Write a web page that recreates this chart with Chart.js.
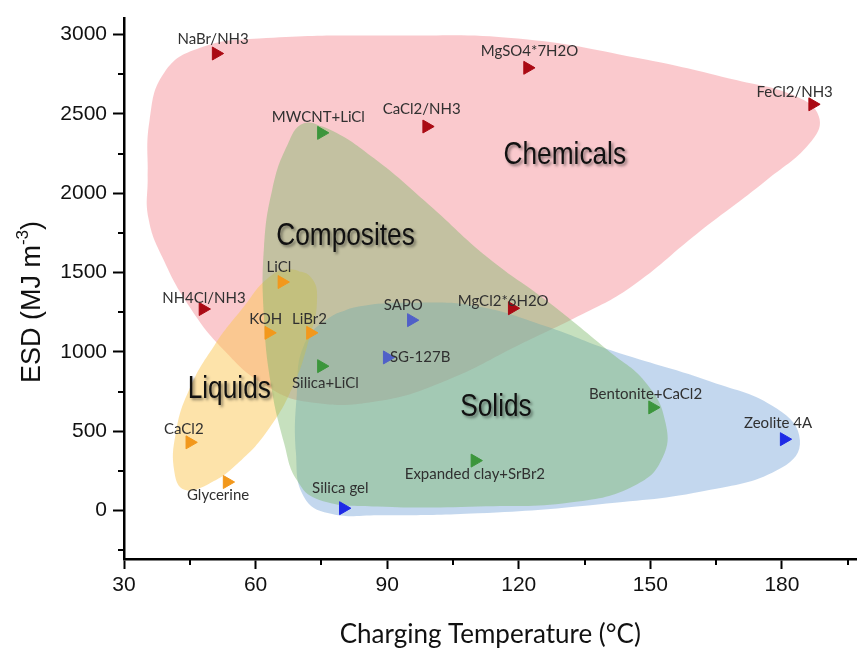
<!DOCTYPE html>
<html>
<head>
<meta charset="utf-8">
<script src="https://cdn.jsdelivr.net/npm/chart.js@4.4.1/dist/chart.umd.min.js"></script>
<style>
  html, body { margin: 0; padding: 0; background: #ffffff; }
  #wrap { width: 865px; height: 650px; position: relative; }
</style>
</head>
<body>
<div id="wrap"><canvas id="chart" width="865" height="650"></canvas></div>
<script>
// ---- materials: charging temperature (°C) and energy storage density (MJ m-3) ----
const chemNames = ['NaBr/NH3', 'MgSO4*7H2O', 'FeCl2/NH3', 'CaCl2/NH3', 'NH4Cl/NH3', 'MgCl2*6H2O'];
const chemTemp  = [51, 122, 187, 99, 48, 118.5];
const chemESD   = [2880, 2790, 2560, 2420, 1270, 1275];

const compNames = ['MWCNT+LiCl', 'Silica+LiCl', 'Bentonite+CaCl2', 'Expanded clay+SrBr2'];
const compTemp  = [75, 75, 150.5, 110];
const compESD   = [2380, 910, 650, 315];

const liqNames = ['LiCl', 'KOH', 'LiBr2', 'CaCl2', 'Glycerine'];
const liqTemp  = [66, 63, 72.5, 45, 53.5];
const liqESD   = [1440, 1120, 1120, 430, 180];

const solNames = ['SAPO', 'SG-127B', 'Silica gel', 'Zeolite 4A'];
const solTemp  = [95.5, 90, 80, 180.5];
const solESD   = [1200, 965, 15, 450];

// ---- region outlines (°C, MJ m-3) ----
const chemAreaTemp = [35.4, 35.8, 39.2, 47.2, 60.8, 92.6, 119.8, 147.1, 169.8, 183.4, 188.4, 186.8, 176.6, 160.7, 145.5, 133.5, 119.8, 103.9, 88.0, 72.1, 61.9, 52.8, 44.9, 38.8, 35.6];
const chemAreaESD  = [2084, 2453, 2760, 2914, 2975, 2993, 2975, 2852, 2711, 2607, 2484, 2330, 2084, 1746, 1408, 1224, 1040, 825, 690, 684, 795, 1010, 1286, 1593, 1839];

const compAreaTemp = [71.0, 77.0, 87.0, 99.4, 113.0, 126.6, 140.3, 149.3, 153.5, 152.8, 147.1, 133.5, 110.7, 88.0, 74.4, 69.4, 66.5, 63.5, 61.9, 61.9, 63.8, 67.2];
const compAreaESD  = [2440, 2400, 2220, 1931, 1593, 1317, 1010, 795, 549, 334, 168, 57, 26, 26, 69, 192, 425, 794, 1224, 1654, 2023, 2300];

const liqAreaTemp = [67.6, 72.6, 74.0, 72.1, 68.7, 63.1, 56.2, 49.4, 43.8, 41.5, 41.8, 44.9, 50.6, 57.4, 62.6];
const liqAreaESD  = [1520, 1471, 1318, 1072, 795, 519, 304, 169, 132, 242, 488, 765, 1041, 1287, 1459];

const solAreaTemp = [76.7, 83.5, 97.1, 110.7, 126.0, 141.0, 163.7, 178.9, 184.1, 180.0, 163.7, 138.0, 110.7, 88.0, 76.7, 71.0, 69.2, 69.4, 71.0];
const solAreaESD  = [1213, 1286, 1310, 1286, 1163, 1010, 813, 641, 444, 272, 131, 39, -17, -29, -17, 88, 364, 733, 1040];

// ---- region captions ----
const groupNames = ['Chemicals', 'Composites', 'Liquids', 'Solids'];
const groupTemp  = [130.5, 80.5, 54, 114.8];
const groupESD   = [2207, 1697, 733, 622];

// ---- axis ticks ----
const xMajorTicks = [30, 60, 90, 120, 150, 180];
const xMinorTicks = [45, 75, 105, 135, 165, 195];
const yMajorTicks = [0, 500, 1000, 1500, 2000, 2500, 3000];
const yMinorTicks = [-250, 250, 750, 1250, 1750, 2250, 2750];

// where each material name sits relative to its marker (px)
const labelOffset = {
  'NaBr/NH3': [-3, -14], 'MgSO4*7H2O': [2, -17], 'FeCl2/NH3': [-18, -12], 'CaCl2/NH3': [-5, -17],
  'NH4Cl/NH3': [1, -11], 'MgCl2*6H2O': [-9, -7], 'MWCNT+LiCl': [-3, -16], 'Silica+LiCl': [4, 17],
  'Bentonite+CaCl2': [-7, -13], 'Expanded clay+SrBr2': [0, 14], 'LiCl': [-3, -15], 'KOH': [-3, -14],
  'LiBr2': [-1, -14], 'CaCl2': [-6, -13], 'Glycerine': [-9, 13], 'SAPO': [-8, -15],
  'SG-127B': [33, 0], 'Silica gel': [-3, -20], 'Zeolite 4A': [-6, -16]
};

const toPoints = (xs, ys) => xs.map((x, i) => ({ x: x, y: ys[i] }));
// closed outline: wrap around so the spline runs smoothly through the start point
const ring = (xs, ys) => {
  const p = toPoints(xs, ys);
  return p.concat([p[0], p[1]]);
};

function markerSet(label, names, xs, ys, colors) {
  return {
    label: label,
    names: names,
    data: toPoints(xs, ys),
    pointStyle: 'triangle',
    rotation: 90,
    pointRadius: 7.5,
    backgroundColor: colors,
    borderColor: colors,
    borderWidth: 1,
    showLine: false
  };
}
function areaSet(label, xs, ys, color) {
  return {
    label: label,
    data: ring(xs, ys),
    showLine: true,
    fill: 'shape',
    backgroundColor: color,
    borderWidth: 0,
    borderColor: 'rgba(0,0,0,0)',
    pointRadius: 0,
    tension: 0.45
  };
}

const chemColor = '#aa0a14';
const compColor = '#3c963c';
const liqColor = '#f2981c';
const solColors = ['#5060c8', '#5060c8', '#1e2ae6', '#1e2ae6'];

const datasets = [
  markerSet('Chemicals', chemNames, chemTemp, chemESD, chemColor),
  markerSet('Composites', compNames, compTemp, compESD, compColor),
  markerSet('Liquids', liqNames, liqTemp, liqESD, liqColor),
  markerSet('Solids', solNames, solTemp, solESD, solColors),
  // regions, listed top-most first
  areaSet('Composites region', compAreaTemp, compAreaESD, 'rgba(120,180,100,0.42)'),
  areaSet('Liquids region', liqAreaTemp, liqAreaESD, 'rgba(252,200,85,0.5)'),
  areaSet('Solids region', solAreaTemp, solAreaESD, 'rgba(135,175,222,0.5)'),
  areaSet('Chemicals region', chemAreaTemp, chemAreaESD, 'rgba(245,148,155,0.5)')
];

const axisFont = { family: "'Liberation Sans', Arial, sans-serif", size: 21 };

const decorations = {
  id: 'decorations',
  afterDatasetsDraw(chart) {
    const ctx = chart.ctx;
    const xs = chart.scales.x, ys = chart.scales.y;

    // material names next to their markers
    ctx.save();
    ctx.font = "15px Lato, 'Open Sans', sans-serif";
    ctx.fillStyle = '#303030';
    ctx.textAlign = 'center';
    ctx.textBaseline = 'middle';
    chart.data.datasets.forEach((ds, di) => {
      if (!ds.names) return;
      chart.getDatasetMeta(di).data.forEach((pt, i) => {
        const name = ds.names[i];
        const off = labelOffset[name] || [0, -15];
        ctx.fillText(name, pt.x + off[0], pt.y + off[1]);
      });
    });
    ctx.restore();

    // region captions with a soft drop shadow
    groupNames.forEach((name, i) => {
      const px = xs.getPixelForValue(groupTemp[i]);
      const py = ys.getPixelForValue(groupESD[i]);
      ctx.save();
      ctx.translate(px, py - 5);
      ctx.scale(0.82, 1);
      ctx.font = "32px 'Liberation Sans', Arial, sans-serif";
      ctx.textAlign = 'center';
      ctx.textBaseline = 'middle';
      ctx.shadowColor = 'rgba(0,0,0,0.45)';
      ctx.shadowBlur = 3;
      ctx.shadowOffsetX = 2;
      ctx.shadowOffsetY = 2;
      ctx.fillStyle = '#111111';
      ctx.fillText(name, 0, 0);
      ctx.restore();
    });
  },
  afterDraw(chart) {
    const ctx = chart.ctx;
    const xs = chart.scales.x, ys = chart.scales.y;
    const area = chart.chartArea;
    ctx.save();
    ctx.strokeStyle = '#000000';
    ctx.lineWidth = 2;
    // short minor ticks
    xMinorTicks.forEach(v => {
      const px = Math.round(xs.getPixelForValue(v));
      ctx.beginPath();
      ctx.moveTo(px, area.bottom);
      ctx.lineTo(px, area.bottom + 6);
      ctx.stroke();
    });
    yMinorTicks.forEach(v => {
      const py = Math.round(ys.getPixelForValue(v));
      ctx.beginPath();
      ctx.moveTo(area.left, py);
      ctx.lineTo(area.left - 6, py);
      ctx.stroke();
    });
    ctx.restore();

    // y-axis title with superscript
    ctx.save();
    ctx.translate(30, 302);
    ctx.rotate(-Math.PI / 2);
    ctx.fillStyle = '#111111';
    ctx.textBaseline = 'alphabetic';
    const big = "27px 'Liberation Sans', Arial, sans-serif";
    const small = "17px 'Liberation Sans', Arial, sans-serif";
    const parts = [['ESD (MJ m', big, 0], ['-3', small, -12], [')', big, 0]];
    let total = 0;
    parts.forEach(p => { ctx.font = p[1]; total += ctx.measureText(p[0]).width; });
    let cx = -total / 2;
    parts.forEach(p => {
      ctx.font = p[1];
      ctx.fillText(p[0], cx, 10 + p[2]);
      cx += ctx.measureText(p[0]).width;
    });
    ctx.restore();
  }
};

new Chart(document.getElementById('chart'), {
  type: 'scatter',
  data: { datasets: datasets },
  options: {
    responsive: false,
    animation: false,
    events: [],
    layout: { padding: { top: 5, right: 5, left: 0, bottom: 0 } },
    plugins: { legend: { display: false }, tooltip: { enabled: false } },
    scales: {
      x: {
        type: 'linear',
        min: 30,
        max: 197,
        afterBuildTicks(scale) { scale.ticks = xMajorTicks.map(v => ({ value: v })); },
        afterFit(scale) { scale.height = 91; },
        ticks: { font: axisFont, color: '#111111', padding: 4, maxRotation: 0, autoSkip: false, callback: v => String(v) },
        grid: { display: true, drawOnChartArea: false, drawTicks: true, tickLength: 10, tickWidth: 2, tickColor: '#000000' },
        border: { display: true, color: '#000000', width: 2.5 },
        title: {
          display: true,
          text: 'Charging Temperature (°C)',
          font: { family: "Lato, 'Open Sans', sans-serif", size: 26 },
          color: '#111111',
          padding: { top: 12, bottom: 0 }
        }
      },
      y: {
        type: 'linear',
        min: -305,
        max: 3100,
        afterBuildTicks(scale) { scale.ticks = yMajorTicks.map(v => ({ value: v })); },
        afterFit(scale) { scale.width = 124; },
        ticks: { font: axisFont, color: '#111111', padding: 6, autoSkip: false, callback: v => String(v) },
        grid: { display: true, drawOnChartArea: false, drawTicks: true, tickLength: 11, tickWidth: 2, tickColor: '#000000' },
        border: { display: true, color: '#000000', width: 2.5 }
      }
    }
  },
  plugins: [decorations]
});
</script>
</body>
</html>
